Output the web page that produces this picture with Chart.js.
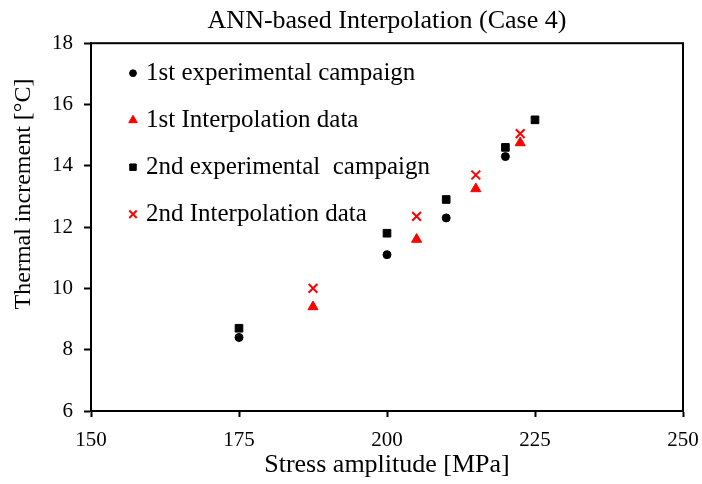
<!DOCTYPE html>
<html>
<head>
<meta charset="utf-8">
<script src="https://cdn.jsdelivr.net/npm/chart.js@4.4.1/dist/chart.umd.min.js"></script>
<style>
    html, body { margin: 0; padding: 0; background: #fff; }
    #wrap { width: 702px; height: 484px; }
</style>
</head>
<body>
<div id="wrap"><canvas id="annChart" width="702" height="484"></canvas></div>
<script>
// 데이터
const exp1X = [175, 200, 210, 220];
const exp1Y = [8.4, 11.1, 12.3, 14.3];
const interp1X = [187.5, 205, 215, 222.5];
const interp1Y = [9.4, 11.6, 13.25, 14.75];
const exp2X = [175, 200, 210, 220, 225];
const exp2Y = [8.7, 11.8, 12.9, 14.6, 15.5];
const interp2X = [187.5, 205, 215, 222.5];
const interp2Y = [10.0, 12.35, 13.7, 15.05];
const seriesLabels = ['1st experimental campaign', '1st Interpolation data', '2nd experimental  campaign', '2nd Interpolation data'];
const xTicks = [150, 175, 200, 225, 250];
const yTicks = [6, 8, 10, 12, 14, 16, 18];

const FONT = "'Liberation Serif', 'Times New Roman', serif";

function toPoints(xs, ys) {
    return xs.map((x, i) => ({ x: x, y: ys[i] }));
}

// 플롯 테두리
const framePlugin = {
    id: 'frame',
    beforeDatasetsDraw(chart) {
        const a = chart.chartArea;
        const ctx = chart.ctx;
        ctx.save();
        ctx.strokeStyle = '#000';
        ctx.lineWidth = 2;
        ctx.strokeRect(a.left, a.top, a.right - a.left, a.bottom - a.top);
        ctx.restore();
    }
};

// 세로축 제목 + 플롯 안쪽 범례
const textPlugin = {
    id: 'extraText',
    afterDraw(chart) {
        const ctx = chart.ctx;
        const a = chart.chartArea;
        ctx.save();
        ctx.fillStyle = '#000';
        ctx.font = '24px ' + FONT;
        ctx.textAlign = 'center';
        ctx.textBaseline = 'middle';
        ctx.translate(24, 194);
        ctx.rotate(-Math.PI / 2);
        ctx.fillText('Thermal increment [°C]', 0, 0);
        ctx.restore();

        ctx.save();
        ctx.font = '25px ' + FONT;
        ctx.textBaseline = 'middle';
        ctx.textAlign = 'left';
        chart.data.datasets.forEach((ds, i) => {
            const y = a.top + 30 + i * 47;
            ctx.fillStyle = ds.pointBackgroundColor;
            ctx.strokeStyle = ds.pointBorderColor;
            ctx.lineWidth = ds.pointBorderWidth;
            Chart.helpers.drawPoint(ctx, {
                pointStyle: ds.pointStyle,
                rotation: 0,
                radius: ds.pointRadius * 0.85,
                borderWidth: ds.pointBorderWidth
            }, a.left + 42, y);
            ctx.fillStyle = '#000';
            ctx.fillText(ds.label, a.left + 55, y);
        });
        ctx.restore();
    }
};

const ctx = document.getElementById('annChart').getContext('2d');
new Chart(ctx, {
    type: 'scatter',
    data: {
        datasets: [{
            label: seriesLabels[0],
            data: toPoints(exp1X, exp1Y),
            pointStyle: 'circle',
            pointRadius: 4,
            pointBackgroundColor: '#000',
            pointBorderColor: '#000',
            pointBorderWidth: 1
        }, {
            label: seriesLabels[1],
            data: toPoints(interp1X, interp1Y),
            pointStyle: 'triangle',
            pointRadius: 5.8,
            pointBackgroundColor: '#ff0000',
            pointBorderColor: '#ff0000',
            pointBorderWidth: 1
        }, {
            label: seriesLabels[2],
            data: toPoints(exp2X, exp2Y),
            pointStyle: 'rect',
            pointRadius: 5.4,
            pointBackgroundColor: '#000',
            pointBorderColor: '#000',
            pointBorderWidth: 1
        }, {
            label: seriesLabels[3],
            data: toPoints(interp2X, interp2Y),
            pointStyle: 'crossRot',
            pointRadius: 6.2,
            pointBackgroundColor: '#ff0000',
            pointBorderColor: '#ff0000',
            pointBorderWidth: 2
        }]
    },
    options: {
        responsive: false,
        animation: false,
        layout: { padding: { left: 0, right: 19, top: 0, bottom: 2 } },
        plugins: {
            legend: { display: false },
            tooltip: { enabled: false },
            title: {
                display: true,
                text: 'ANN-based Interpolation (Case 4)',
                fullSize: false,
                color: '#000',
                font: { family: FONT, size: 26, weight: 'normal' },
                padding: { top: 6, bottom: 6 }
            }
        },
        scales: {
            x: {
                type: 'linear',
                min: xTicks[0],
                max: xTicks[xTicks.length - 1],
                afterBuildTicks: s => { s.ticks = xTicks.map(v => ({ value: v })); },
                afterFit: s => { s.height = 71; s.paddingRight = 0; s.paddingLeft = 0; },
                border: { color: '#000', width: 2 },
                grid: { drawOnChartArea: false, tickLength: 6, tickColor: '#000', tickWidth: 2 },
                ticks: { color: '#000', font: { family: FONT, size: 21 }, padding: 11, maxRotation: 0 },
                title: {
                    display: true,
                    text: 'Stress amplitude [MPa]',
                    color: '#000',
                    font: { family: FONT, size: 26 },
                    padding: { top: 0, bottom: 1 }
                }
            },
            y: {
                type: 'linear',
                min: yTicks[0],
                max: yTicks[yTicks.length - 1],
                afterBuildTicks: s => { s.ticks = yTicks.map(v => ({ value: v })); },
                afterFit: s => { s.width = 91; },
                border: { color: '#000', width: 2 },
                grid: { drawOnChartArea: false, tickLength: 7, tickColor: '#000', tickWidth: 2 },
                ticks: { color: '#000', font: { family: FONT, size: 21 }, padding: 11 }
            }
        }
    },
    plugins: [framePlugin, textPlugin]
});
</script>
</body>
</html>
